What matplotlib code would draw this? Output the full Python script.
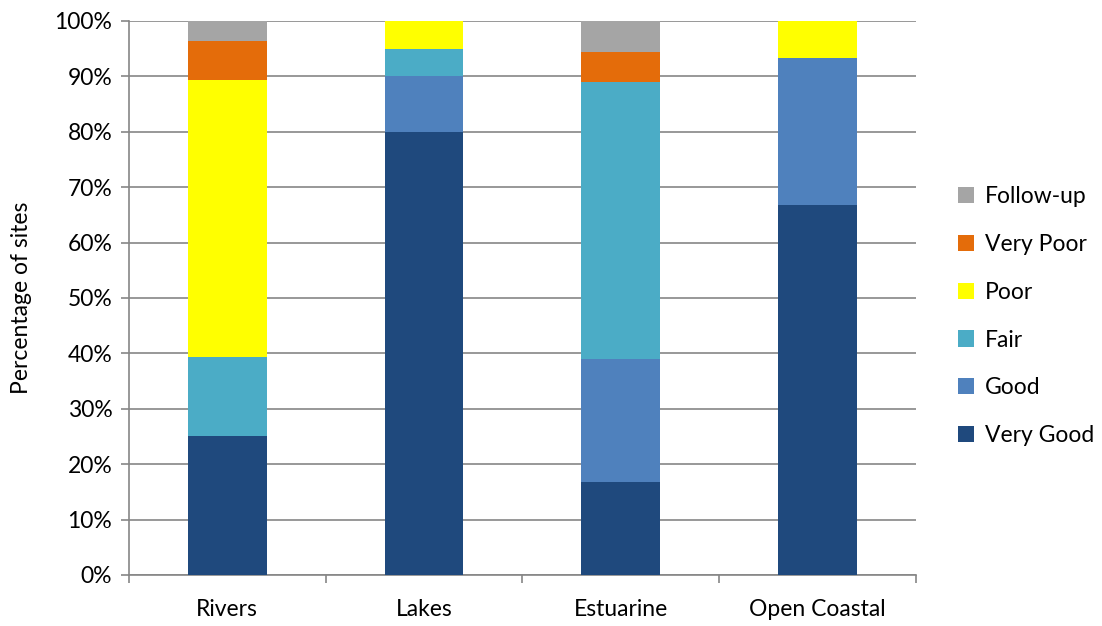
import matplotlib
matplotlib.use("Agg")
import matplotlib.pyplot as plt
import numpy as np
from matplotlib.patches import Patch
from matplotlib.ticker import FixedLocator, FuncFormatter

plt.rcParams['font.family'] = ['Lato', 'DejaVu Sans']

categories = ["Rivers", "Lakes", "Estuarine", "Open Coastal"]
series_names = ["Very Good", "Good", "Fair", "Poor", "Very Poor", "Follow-up"]
very_good = [25.0, 80.0, 16.7, 66.7]
good = [0.0, 10.0, 22.2, 26.7]
fair = [14.3, 5.0, 50.0, 0.0]
poor = [50.0, 5.0, 0.0, 6.6]
very_poor = [7.1, 0.0, 5.55, 0.0]
follow_up = [3.6, 0.0, 5.55, 0.0]
colors = ["#1F497D", "#4F81BD", "#4BACC6", "#FFFF00", "#E46C0A", "#A5A5A5"]

series = [very_good, good, fair, poor, very_poor, follow_up]

fig = plt.figure(figsize=(11.02, 6.26), dpi=100)
ax = fig.add_axes([0.117, 0.0815, 0.714, 0.885])

x = np.arange(len(categories))
bottom = np.zeros(len(categories))
for vals, col in zip(series, colors):
    v = np.array(vals)
    ax.bar(x, v, width=0.4, bottom=bottom, color=col, zorder=3, linewidth=0)
    bottom += v

ax.set_xlim(-0.5, len(categories) - 0.5)
ax.set_ylim(0, 100)
ax.set_yticks(np.arange(0, 101, 10))
ax.yaxis.set_major_formatter(FuncFormatter(lambda v, p: f"{int(v)}%"))
ax.yaxis.grid(True, color="#868686", linewidth=1.2, zorder=0)

ax.set_xticks(x)
ax.set_xticklabels(categories)
ax.xaxis.set_minor_locator(FixedLocator(np.arange(-0.5, len(categories), 1.0)))
ax.tick_params(axis="x", which="major", length=0, pad=17, labelsize=16.5)
ax.tick_params(axis="x", which="minor", length=6, color="#868686", width=1.2)
ax.tick_params(axis="y", length=6, color="#868686", width=1.2, labelsize=16.5, pad=6)

for s in ["top", "right"]:
    ax.spines[s].set_visible(False)
for s in ["left", "bottom"]:
    ax.spines[s].set_color("#868686")
    ax.spines[s].set_linewidth(1.2)

ax.set_ylabel("Percentage of sites", fontsize=16.5, labelpad=16)

handles = [Patch(facecolor=c, edgecolor="none") for c in colors]
leg = fig.legend(handles[::-1], series_names[::-1], loc="center left",
                 bbox_to_anchor=(0.851, 0.495), frameon=False, fontsize=16.5,
                 handlelength=0.7, handleheight=0.7, handletextpad=0.45,
                 labelspacing=1.17)

fig.savefig("out.png", dpi=100)
